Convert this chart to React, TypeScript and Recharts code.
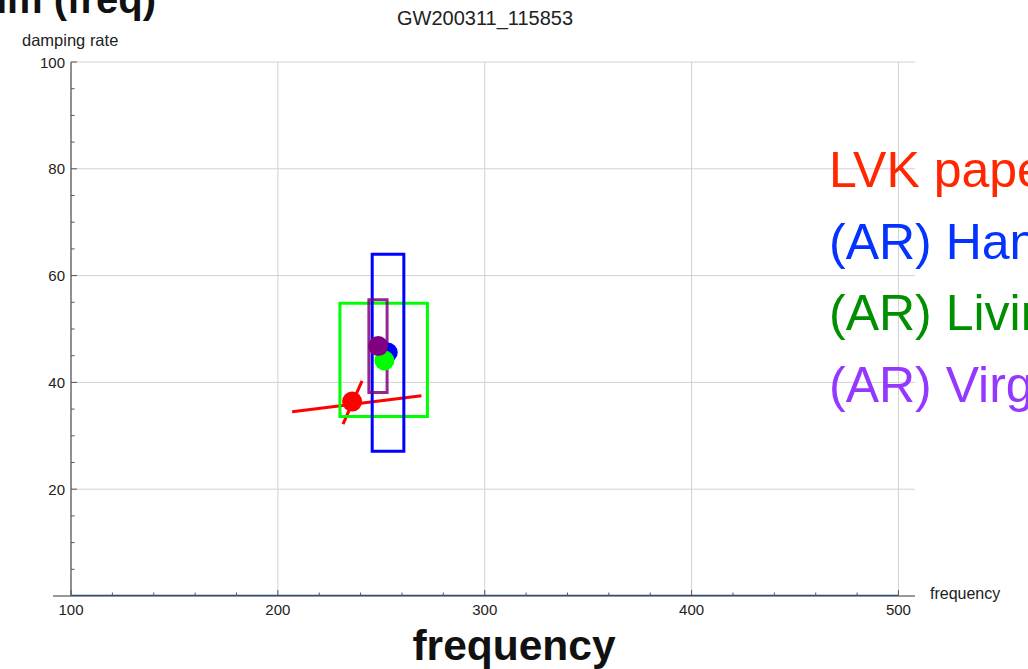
import React from 'react';
import {
  ComposedChart,
  XAxis,
  YAxis,
  CartesianGrid,
  Line,
  Scatter,
  ReferenceLine,
} from 'recharts';

const W = 1028;
const H = 669;

// Axis ticks: minor every 20 Hz / 5 units, labels on the majors
const xTicks = [100, 120, 140, 160, 180, 200, 220, 240, 260, 280, 300, 320, 340, 360, 380, 400, 420, 440, 460, 480, 500];
const yTicks = [0, 5, 10, 15, 20, 25, 30, 35, 40, 45, 50, 55, 60, 65, 70, 75, 80, 85, 90, 95, 100];
const xMajor = [100, 200, 300, 400, 500];
const yMajor = [20, 40, 60, 80, 100];
const xGrid = [200, 300, 400, 500];
const yGrid = [20, 40, 60, 80, 100];

// LVK paper estimate with its two error strokes
const lvkPoint = [{ f: 235.9, d: 36.4 }];
const lvkErrA = [{ f: 206.9, d: 34.5 }, { f: 269.4, d: 37.5 }];
const lvkErrB = [{ f: 231.5, d: 32.2 }, { f: 240.7, d: 40.3 }];

// AR fits per detector: central value and box of uncertainty
const hanfordPoint = [{ f: 253.1, d: 45.6 }];
const hanfordBox = { f0: 245.6, f1: 260.9, d0: 27.1, d1: 64.0 };
const livingstonPoint = [{ f: 251.5, d: 44.1 }];
const livingstonBox = { f0: 230.0, f1: 272.3, d0: 33.6, d1: 54.8 };
const virgoPoint = [{ f: 248.5, d: 46.8 }];
const virgoBox = { f0: 244.0, f1: 252.8, d0: 38.1, d1: 55.5 };

// zero-damping reference line along the frequency axis
const baseline = [{ f: 100, d: 0 }, { f: 500, d: 0 }];

const legendLabels = ['LVK paper', '(AR) Hanford', '(AR) Livingston', '(AR) Virgo'];
const legendColors = ['#ff2600', '#0433ff', '#008f00', '#9437ff'];

const AXIS_FONT = '"Liberation Sans", Arial, Helvetica, sans-serif';

type Box = { f0: number; f1: number; d0: number; d1: number };
const boxOutline = (b: Box) => [
  { f: b.f0, d: b.d0 },
  { f: b.f1, d: b.d0 },
  { f: b.f1, d: b.d1 },
  { f: b.f0, d: b.d1 },
  { f: b.f0, d: b.d0 },
];

const XTick = (props: any) => {
  const { x, y, payload } = props;
  const major = xMajor.includes(payload.value);
  return (
    <g>
      <line x1={x} x2={x} y1={y} y2={y - (major ? 6 : 3.5)} stroke="#555" strokeWidth={1} />
      {major && (
        <text x={x} y={y + 19} textAnchor="middle" fontSize={15} fontFamily={AXIS_FONT} fill="#222">
          {payload.value}
        </text>
      )}
    </g>
  );
};

const YTick = (props: any) => {
  const { x, y, payload } = props;
  const major = yMajor.includes(payload.value);
  if (payload.value === 0) return <g />;
  return (
    <g>
      <line x1={x} x2={x + (major ? 6 : 3.5)} y1={y} y2={y} stroke="#555" strokeWidth={1} />
      {major && (
        <text x={x - 6} y={y + 5.5} textAnchor="end" fontSize={15} fontFamily={AXIS_FONT} fill="#222">
          {payload.value}
        </text>
      )}
    </g>
  );
};

const dot = (color: string) => (props: any) => (
  <circle cx={props.cx} cy={props.cy} r={10} fill={color} stroke="none" />
);

export default function App() {
  return (
    <div
      style={{
        position: 'absolute',
        left: 0,
        top: 0,
        width: W,
        height: H,
        overflow: 'hidden',
        background: '#ffffff',
      }}
    >
      <ComposedChart
        width={W}
        height={H}
        margin={{ top: 62, right: 113, bottom: 43, left: 21 }}
      >
        <CartesianGrid
          horizontalValues={yGrid}
          verticalValues={xGrid}
          stroke="#d2d2d2"
          strokeWidth={1}
        />
        <XAxis
          type="number"
          dataKey="f"
          domain={[100, 508]}
          ticks={xTicks}
          interval={0}
          allowDataOverflow
          height={30}
          tickSize={0}
          tickMargin={0}
          tickLine={false}
          axisLine={false}
          tick={<XTick />}
        />
        <YAxis
          type="number"
          dataKey="d"
          domain={[0, 100]}
          ticks={yTicks}
          interval={0}
          allowDataOverflow
          width={50}
          tickSize={0}
          tickMargin={0}
          tickLine={false}
          axisLine={{ stroke: '#6a6a6a', strokeWidth: 1.5 }}
          tick={<YTick />}
        />
        {/* frequency axis line, running a little past the damping axis on the left */}
        <ReferenceLine
          segment={[{ x: 91.3, y: 0 }, { x: 508, y: 0 }]}
          ifOverflow="visible"
          stroke="#333"
          strokeWidth={1}
        />
        <Line
          data={baseline}
          dataKey="d"
          stroke="#2b4a80"
          strokeWidth={2.5}
          dot={false}
          activeDot={false}
          isAnimationActive={false}
        />
        <Line data={lvkErrA} dataKey="d" stroke="#ff0000" strokeWidth={3} dot={false} activeDot={false} isAnimationActive={false} />
        <Line data={lvkErrB} dataKey="d" stroke="#ff0000" strokeWidth={3} dot={false} activeDot={false} isAnimationActive={false} />
        <Line
          data={boxOutline(livingstonBox)}
          dataKey="d"
          stroke="#00ff00"
          strokeWidth={3}
          strokeLinecap="square"
          dot={false}
          activeDot={false}
          isAnimationActive={false}
        />
        <Line
          data={boxOutline(hanfordBox)}
          dataKey="d"
          stroke="#0000ff"
          strokeWidth={3}
          strokeLinecap="square"
          dot={false}
          activeDot={false}
          isAnimationActive={false}
        />
        <Line
          data={boxOutline(virgoBox)}
          dataKey="d"
          stroke="#800080"
          strokeOpacity={0.85}
          strokeWidth={3}
          strokeLinecap="square"
          dot={false}
          activeDot={false}
          isAnimationActive={false}
        />
        <Scatter data={lvkPoint} shape={dot('#ff0000')} isAnimationActive={false} />
        <Scatter data={hanfordPoint} shape={dot('#0000ff')} isAnimationActive={false} />
        <Scatter data={livingstonPoint} shape={dot('#00ff00')} isAnimationActive={false} />
        <Scatter data={virgoPoint} shape={dot('#800080')} isAnimationActive={false} />
      </ComposedChart>

      <svg
        width={W}
        height={H}
        style={{ position: 'absolute', left: 0, top: 0, pointerEvents: 'none' }}
      >
        <text x={156} y={13} textAnchor="end" fontSize={40} fontWeight="bold" fontFamily={AXIS_FONT} fill="#111">
          Im (freq)
        </text>
        <text x={485} y={25} textAnchor="middle" fontSize={20} fontFamily={AXIS_FONT} fill="#222">
          GW200311_115853
        </text>
        <text x={22} y={45.5} fontSize={16.5} fontFamily={AXIS_FONT} fill="#222">
          damping rate
        </text>
        <text x={930} y={599} fontSize={16} fontFamily={AXIS_FONT} fill="#222">
          frequency
        </text>
        <text x={514} y={660} textAnchor="middle" fontSize={42.5} fontWeight="bold" fontFamily={AXIS_FONT} fill="#111">
          frequency
        </text>
        {legendLabels.map((label, i) => (
          <text
            key={label}
            x={829}
            y={187 + i * 71.5}
            fontSize={50}
            fontFamily={AXIS_FONT}
            fill={legendColors[i]}
          >
            {label}
          </text>
        ))}
      </svg>
    </div>
  );
}
